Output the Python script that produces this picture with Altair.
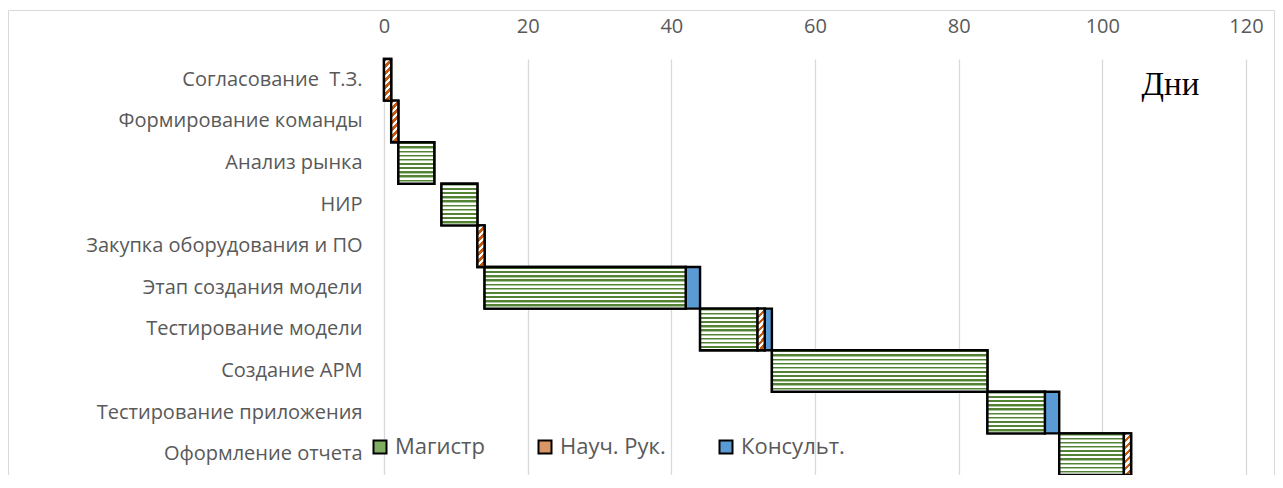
import altair as alt
import pandas as pd

# ---- data ----
tasks = [
    "Согласование\u00a0 Т.З.",
    "Формирование команды",
    "Анализ рынка",
    "НИР",
    "Закупка оборудования и ПО",
    "Этап создания модели",
    "Тестирование модели",
    "Создание АРМ",
    "Тестирование приложения",
    "Оформление отчета",
]
start_day = [0, 1, 2, 8, 13, 14, 44, 54, 84, 94]
magistr = [0, 0, 5, 5, 0, 28, 8, 30, 8, 9]
nauch_ruk = [1, 1, 0, 0, 1, 0, 1, 0, 0, 1]
konsult = [0, 0, 0, 0, 0, 2, 1, 0, 2, 0]
series_names = ["Магистр", "Науч. Рук.", "Консульт."]
x_ticks = [0, 20, 40, 60, 80, 100, 120]

rows = []
for t, s, vals in zip(tasks, start_day, zip(magistr, nauch_ruk, konsult)):
    cur = s
    for name, v in zip(series_names, vals):
        if v > 0:
            rows.append({"task": t, "series": name, "x0": cur, "x1": cur + v})
            cur += v
df = pd.DataFrame(rows)


# ---- pattern fills emulated with hard-stop gradients ----
def stripe_stops(n, parts):
    stops = []
    for k in range(n):
        prev = 0.0
        for frac, col in parts:
            stops.append({"offset": (k + prev) / n, "color": col})
            stops.append({"offset": (k + frac) / n, "color": col})
            prev = frac
    return stops


GREEN_PARTS = [(0.38, "#548235"), (0.55, "#A9C79A"), (1.0, "#FFFFFF")]
ORANGE_PARTS = [(0.5, "#C55A11"), (1.0, "#FFFFFF")]

green_grad = {"gradient": "linear", "x1": 0, "y1": 0, "x2": 0, "y2": 1,
              "stops": stripe_stops(10, GREEN_PARTS)}
orange_grad = {"gradient": "linear", "x1": 0, "y1": 0, "x2": 0.2, "y2": 1.14,
               "stops": stripe_stops(7, ORANGE_PARTS)}

FONT = "Open Sans"
GREY = "#595959"
SW = 2.4

x_enc = alt.X(
    "x0:Q",
    scale=alt.Scale(domain=[0, 120], nice=False),
    axis=alt.Axis(
        orient="top", values=x_ticks, format="d", labelFlush=False,
        title="Дни", titleX=786, titleY=25, titleFont="Liberation Serif",
        titleFontSize=33, titleFontWeight="normal", titleColor="#000000",
        titleBaseline="middle", titleAlign="center", titleAngle=0,
        labelFont=FONT, labelFontSize=20, labelColor=GREY, labelPadding=23,
        ticks=False, tickSize=0, domain=False, grid=True,
        gridColor="#D9D9D9", gridWidth=1.3,
    ),
)
x2_enc = alt.X2("x1:Q")
y_enc = alt.Y(
    "task:N", sort=tasks,
    scale=alt.Scale(paddingInner=0, paddingOuter=0),
    axis=alt.Axis(
        title=None, labelFont=FONT, labelFontSize=20, labelColor=GREY,
        labelPadding=22, ticks=False, tickSize=0, domain=False,
        labelLimit=400, grid=False,
    ),
)
color_enc = alt.Color(
    "series:N",
    scale=alt.Scale(domain=series_names, range=["#7FAE62", "#DB9665", "#5B9BD5"]),
    legend=alt.Legend(
        title=None, orient="none", legendX=-15, legendY=377,
        direction="horizontal", symbolType="square", symbolSize=169,
        symbolStrokeColor="#000000", symbolStrokeWidth=2, symbolOpacity=1,
        labelFont=FONT, labelFontSize=22, labelColor=GREY,
        labelOffset=4, columnPadding=49, padding=0, labelLimit=300,
    ),
)

frame = alt.Chart(pd.DataFrame({"f": [0]})).mark_rect(
    fillOpacity=0, stroke="#D9D9D9", strokeWidth=1
).encode(
    x=alt.value(-375.5), x2=alt.value(862 + 28.5),
    y=alt.value(-48.5), y2=alt.value(416 + 30),
)

bars = alt.Chart(df).mark_bar(stroke="#000000", strokeWidth=SW).encode(
    x=x_enc, x2=x2_enc, y=y_enc, color=color_enc
)
m_pat = alt.Chart(df).transform_filter(alt.datum.series == "Магистр").mark_bar(
    fill=green_grad, stroke="#000000", strokeWidth=SW
).encode(x=x_enc, x2=x2_enc, y=y_enc)
n_pat = alt.Chart(df).transform_filter(alt.datum.series == "Науч. Рук.").mark_bar(
    fill=orange_grad, stroke="#000000", strokeWidth=SW
).encode(x=x_enc, x2=x2_enc, y=y_enc)

chart = alt.layer(frame, bars, m_pat, n_pat).properties(
    width=862, height=416,
    padding={"left": 376, "top": 51, "right": 29, "bottom": 0},
    autosize=alt.AutoSizeParams(type="none"),
    background="#FFFFFF",
).configure_view(strokeWidth=0)

chart.save("out.html", embed_options={"renderer": "svg", "actions": False})
